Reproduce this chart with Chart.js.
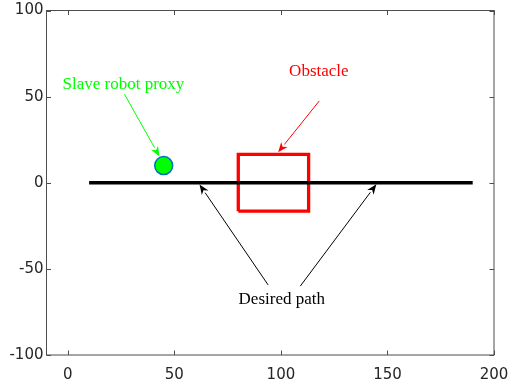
<!DOCTYPE html>
<html>
<head>
<meta charset="utf-8">
<script src="https://cdn.jsdelivr.net/npm/chart.js@4.4.1/dist/chart.umd.min.js"></script>
<style>
  html, body { margin: 0; padding: 0; background: #fff; }
  #wrap { width: 510px; height: 387px; }
</style>
</head>
<body>
<div id="wrap"><canvas id="chart"></canvas></div>
<script>
// Dados do gráfico
const xTicks = [0, 50, 100, 150, 200];
const yTicks = [-100, -50, 0, 50, 100];

// trajetória desejada
const pathX = [10, 190];
const pathY = [0, 0];

// obstáculo (retângulo fechado)
const obstacleX = [80, 113, 113, 80, 80];
const obstacleY = [-16.5, -16.5, 16.5, 16.5, -16.5];

// proxy do robô escravo
const proxyX = [45];
const proxyY = [10];

// anotações: texto e setas (coordenadas em unidades dos dados)
const noteTexts = ['Slave robot proxy', 'Obstacle', 'Desired path'];
const noteTextX = [26.1, 117.8, 100.4];
const noteTextY = [57.3, 64.3, -67.7];
const arrowFromX = [26.6, 118, 94, 109.1];
const arrowFromY = [51.4, 47.5, -59.3, -60];
const arrowToX = [43, 98.7, 61.8, 144.8];
const arrowToY = [15.3, 17.7, -1, -0.9];
const arrowNote = [0, 1, 2, 2];

const noteColors = ['#00ff00', '#ff0000', '#000000'];

function toPoints(xs, ys) {
  return xs.map((x, i) => ({ x: x, y: ys[i] }));
}

// Plugin para eixos em caixa com ticks para dentro e anotações
const boxAndNotes = {
  id: 'boxAndNotes',
  afterDatasetsDraw(chart) {
    const ctx = chart.ctx;
    const a = chart.chartArea;
    const sx = chart.scales.x, sy = chart.scales.y;
    const tl = 4.5;

    ctx.save();
    ctx.strokeStyle = '#4d4d4d';
    ctx.lineWidth = 1;
    ctx.strokeRect(a.left, a.top, a.right - a.left, a.bottom - a.top);
    ctx.beginPath();
    xTicks.forEach((t) => {
      const px = Math.round(sx.getPixelForValue(t)) + 0.5;
      ctx.moveTo(px, a.bottom); ctx.lineTo(px, a.bottom - tl);
      ctx.moveTo(px, a.top); ctx.lineTo(px, a.top + tl);
    });
    yTicks.forEach((t) => {
      const py = Math.round(sy.getPixelForValue(t)) + 0.5;
      ctx.moveTo(a.left, py); ctx.lineTo(a.left + tl, py);
      ctx.moveTo(a.right, py); ctx.lineTo(a.right - tl, py);
    });
    ctx.stroke();

    // setas
    arrowFromX.forEach((fx, i) => {
      const x1 = sx.getPixelForValue(fx), y1 = sy.getPixelForValue(arrowFromY[i]);
      const x2 = sx.getPixelForValue(arrowToX[i]), y2 = sy.getPixelForValue(arrowToY[i]);
      const color = noteColors[arrowNote[i]];
      const ang = Math.atan2(y2 - y1, x2 - x1);
      const hl = 10, hw = 4;
      const bx = x2 - hl * Math.cos(ang), by = y2 - hl * Math.sin(ang);
      ctx.strokeStyle = color;
      ctx.fillStyle = color;
      ctx.lineWidth = 1;
      ctx.beginPath();
      ctx.moveTo(x1, y1);
      ctx.lineTo(bx, by);
      ctx.stroke();
      ctx.beginPath();
      ctx.moveTo(x2, y2);
      ctx.lineTo(bx + hw * Math.sin(ang), by - hw * Math.cos(ang));
      ctx.lineTo(x2 - 0.7 * hl * Math.cos(ang), y2 - 0.7 * hl * Math.sin(ang));
      ctx.lineTo(bx - hw * Math.sin(ang), by + hw * Math.cos(ang));
      ctx.closePath();
      ctx.fill();
    });

    // textos
    ctx.font = '17px "Liberation Serif", serif';
    ctx.textAlign = 'center';
    ctx.textBaseline = 'middle';
    noteTexts.forEach((t, i) => {
      ctx.fillStyle = noteColors[i];
      ctx.fillText(t, sx.getPixelForValue(noteTextX[i]), sy.getPixelForValue(noteTextY[i]));
    });
    ctx.restore();
  }
};

const tickFont = { family: '"DejaVu Sans", sans-serif', size: 15 };

new Chart(document.getElementById('chart').getContext('2d'), {
  type: 'scatter',
  data: {
    datasets: [
      {
        label: 'Desired path',
        data: toPoints(pathX, pathY),
        showLine: true,
        borderColor: '#000000',
        borderWidth: 3.3,
        pointRadius: 0,
      },
      {
        label: 'Obstacle',
        data: toPoints(obstacleX, obstacleY),
        showLine: true,
        borderColor: '#ff0000',
        borderWidth: 3.3,
        borderJoinStyle: 'miter',
        pointRadius: 0,
      },
      {
        label: 'Slave robot proxy',
        data: toPoints(proxyX, proxyY),
        pointRadius: 9,
        pointBackgroundColor: '#00ff00',
        pointBorderColor: '#0072bd',
        pointBorderWidth: 1.5,
      },
    ],
  },
  options: {
    responsive: true,
    maintainAspectRatio: false,
    animation: false,
    events: [],
    layout: { padding: { top: 8, right: 16, left: 0, bottom: 0 } },
    plugins: {
      legend: { display: false },
      tooltip: { enabled: false },
    },
    scales: {
      x: {
        type: 'linear',
        min: -10,
        max: 200,
        afterBuildTicks: (axis) => { axis.ticks = xTicks.map((v) => ({ value: v })); },
        afterFit: (axis) => {
          axis.height = 32;
          axis.paddingLeft = 0;
          axis.paddingRight = 0;
        },
        grid: { display: false, drawTicks: false },
        border: { display: false },
        ticks: { font: tickFont, color: '#262626', padding: 11, maxRotation: 0 },
      },
      y: {
        type: 'linear',
        min: -100,
        max: 100,
        afterBuildTicks: (axis) => { axis.ticks = yTicks.map((v) => ({ value: v })); },
        afterFit: (axis) => {
          axis.width = 46.5;
          axis.paddingTop = 0;
          axis.paddingBottom = 0;
        },
        grid: { display: false, drawTicks: false },
        border: { display: false },
        ticks: { font: tickFont, color: '#262626', padding: 3 },
      },
    },
  },
  plugins: [boxAndNotes],
});
</script>
</body>
</html>
